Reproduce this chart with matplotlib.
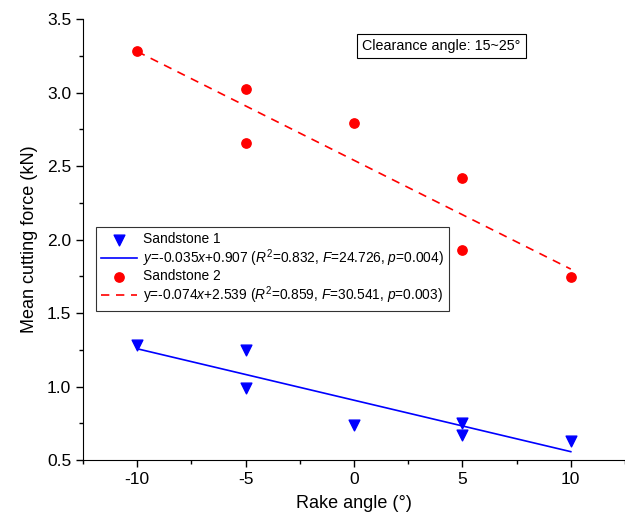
import numpy as np
import matplotlib.pyplot as plt
from matplotlib.ticker import MultipleLocator

plt.rcParams['font.family'] = ['Liberation Sans', 'DejaVu Sans']
plt.rcParams['mathtext.fontset'] = 'custom'
plt.rcParams['mathtext.rm'] = 'Liberation Sans'
plt.rcParams['mathtext.it'] = 'Liberation Sans:italic'
plt.rcParams['axes.unicode_minus'] = False

# datos
rake_s1 = [-10, -5, -5, 0, 5, 5, 10]
force_s1 = [1.28, 1.25, 0.99, 0.74, 0.75, 0.67, 0.63]
rake_s2 = [-10, -5, -5, 0, 5, 5, 10]
force_s2 = [3.28, 3.025, 2.66, 2.79, 2.42, 1.93, 1.745]

# ajustes lineales (pendiente, ordenada)
fit_s1 = (-0.035, 0.907)
fit_s2 = (-0.074, 2.539)
lab_fit1 = r'$y$=-0.035$x$+0.907 ($R^2$=0.832, $F$=24.726, $p$=0.004)'
lab_fit2 = r'y=-0.074$x$+2.539 ($R^2$=0.859, $F$=30.541, $p$=0.003)'

fig = plt.figure(figsize=(6.25, 5.21), dpi=100)
ax = fig.add_axes([0.1328, 0.117, 0.8672, 0.8465])

xf = np.array([-10, 10])
ax.scatter(rake_s1, force_s1, marker='v', s=60, color='blue', label='Sandstone 1', zorder=3)
ax.plot(xf, fit_s1[0] * xf + fit_s1[1], color='blue', lw=1.2, label=lab_fit1)
ax.scatter(rake_s2, force_s2, marker='o', s=45, color='red', label='Sandstone 2', zorder=3)
ax.plot(xf, fit_s2[0] * xf + fit_s2[1], color='red', lw=1.2, ls=(0, (5, 4)), label=lab_fit2)

ax.set_xlim(-12.5, 12.5)
ax.set_ylim(0.5, 3.5)
ax.xaxis.set_major_locator(MultipleLocator(5))
ax.xaxis.set_minor_locator(MultipleLocator(2.5))
ax.yaxis.set_major_locator(MultipleLocator(0.5))
ax.yaxis.set_minor_locator(MultipleLocator(0.25))
ax.yaxis.set_major_formatter(plt.FormatStrFormatter('%.1f'))
ax.tick_params(which='major', direction='out', length=5, width=1, labelsize=12.5)
ax.tick_params(which='minor', direction='out', length=3, width=1)
ax.spines['top'].set_visible(False)
ax.spines['right'].set_visible(False)

ax.set_xlabel('Rake angle (°)', fontsize=13, labelpad=6)
ax.set_ylabel('Mean cutting force (kN)', fontsize=13, labelpad=6)

leg = ax.legend(loc='upper left', bbox_to_anchor=(0.011, 0.544), fontsize=9.9,
                frameon=True, fancybox=False, edgecolor='black', handlelength=2.6,
                handletextpad=0.4, borderpad=0.4, labelspacing=0.05)
leg.get_frame().set_linewidth(0.8)

ax.text(0.515, 0.955, 'Clearance angle: 15~25°', transform=ax.transAxes, fontsize=10.3,
        va='top', ha='left',
        bbox=dict(boxstyle='square,pad=0.35', facecolor='white', edgecolor='black', lw=0.8))

plt.savefig('out.png', dpi=100)
